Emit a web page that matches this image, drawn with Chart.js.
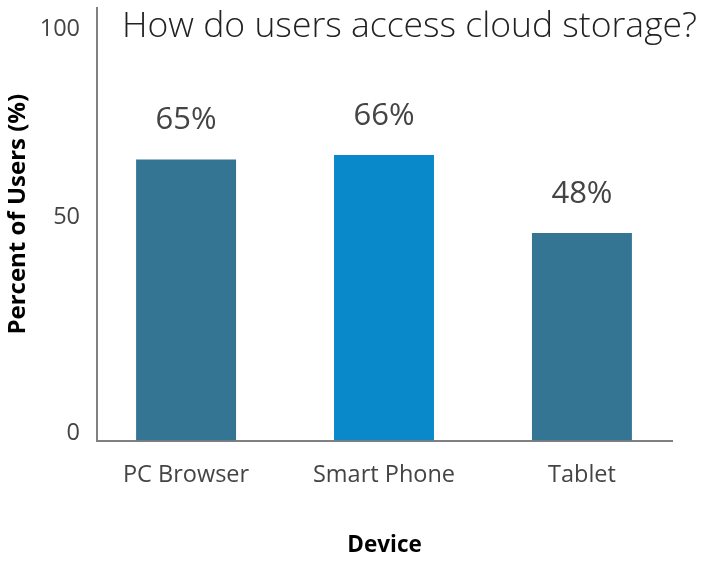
<!DOCTYPE html>
<html><head><meta charset="utf-8">
<script src="https://cdn.jsdelivr.net/npm/chart.js@4.4.1/dist/chart.umd.min.js"></script>
<style>html,body{margin:0;padding:0;background:#fff}canvas{display:block}</style>
</head><body>
<canvas id="c" width="704" height="562"></canvas>
<script>
const categories = ['PC Browser', 'Smart Phone', 'Tablet'];
const values = [65, 66, 48];
const valueLabels = ['65%', '66%', '48%'];
const yTicks = [0, 50, 100];
const yTickLabels = ['0', '50', '100'];
const barColors = ['#357594', '#0a89ca', '#357594'];
const chartTitle = 'How do users access cloud storage?';
const xTitle = 'Device';
const yTitle = 'Percent of Users (%)';

Chart.defaults.font.family = "'Open Sans', sans-serif";

const valueLabelPlugin = {
  id: 'valueLabels',
  afterDatasetsDraw(chart) {
    const ctx = chart.ctx;
    const meta = chart.getDatasetMeta(0);
    ctx.save();
    ctx.font = "31px 'Open Sans'";
    ctx.fillStyle = '#444';
    ctx.textAlign = 'center';
    ctx.textBaseline = 'middle';
    meta.data.forEach((bar, i) => ctx.fillText(valueLabels[i], bar.x, bar.y - 39));
    ctx.restore();
  }
};
const titlePlugin = {
  id: 'topTitle',
  afterDraw(chart) {
    const ctx = chart.ctx;
    const area = chart.chartArea;
    ctx.save();
    ctx.font = "300 35.5px 'Open Sans'";
    ctx.fillStyle = '#222';
    ctx.textAlign = 'left';
    ctx.textBaseline = 'middle';
    ctx.fillText(chartTitle, area.left + 25, 27);
    ctx.font = "bold 24px 'Open Sans'";
    ctx.fillStyle = '#000';
    ctx.textAlign = 'center';
    ctx.translate(18.5, (area.top + area.bottom) / 2 - 10);
    ctx.rotate(-Math.PI / 2);
    ctx.fillText(yTitle, 0, 0);
    ctx.restore();
  }
};

new Chart(document.getElementById('c'), {
  type: 'bar',
  data: {
    datasets: [{
      data: values.map((v, i) => ({x: i, y: v})),
      backgroundColor: barColors,
      borderWidth: 0,
      categoryPercentage: 1,
      barPercentage: 0.505
    }]
  },
  options: {
    responsive: false,
    animation: false,
    layout: {padding: {left: 0, top: 8, right: 32, bottom: 0}},
    plugins: {legend: {display: false}, tooltip: {enabled: false}, title: {display: false}},
    scales: {
      x: {
        type: 'linear', min: -0.45, max: 2.455, offset: false,
        afterBuildTicks: s => { s.ticks = categories.map((c, i) => ({value: i})); },
        ticks: {padding: 21, color: '#444', font: {size: 23.5}, callback: v => categories[v]},
        grid: {display: false, drawTicks: false, offset: false},
        border: {display: true, color: '#808080', width: 2},
        title: {display: true, text: xTitle, color: '#000', font: {size: 22.5, weight: 'bold'}, padding: {top: 0, bottom: 3}},
        afterFit: s => { s.height = 121.5; s.paddingLeft = 0; s.paddingRight = 0; },
        z: 1
      },
      y: {
        min: 0, max: 100,
        afterBuildTicks: s => { s.ticks = yTicks.map(v => ({value: v})); },
        ticks: {
          padding: 17, labelOffset: -7, color: '#444', font: {size: 23.5},
          callback: v => {
            const t = yTickLabels[yTicks.indexOf(v)];
            return v === yTicks[yTicks.length - 1] ? ['', '', t] : t;
          }
        },
        grid: {display: false, drawTicks: false},
        border: {display: true, color: '#808080', width: 2},
        title: {display: false},
        afterFit: s => { s.width = 97; s.paddingTop = 0; s.paddingBottom = 0; },
        z: 1
      }
    }
  },
  plugins: [valueLabelPlugin, titlePlugin]
});
</script>
</body></html>
